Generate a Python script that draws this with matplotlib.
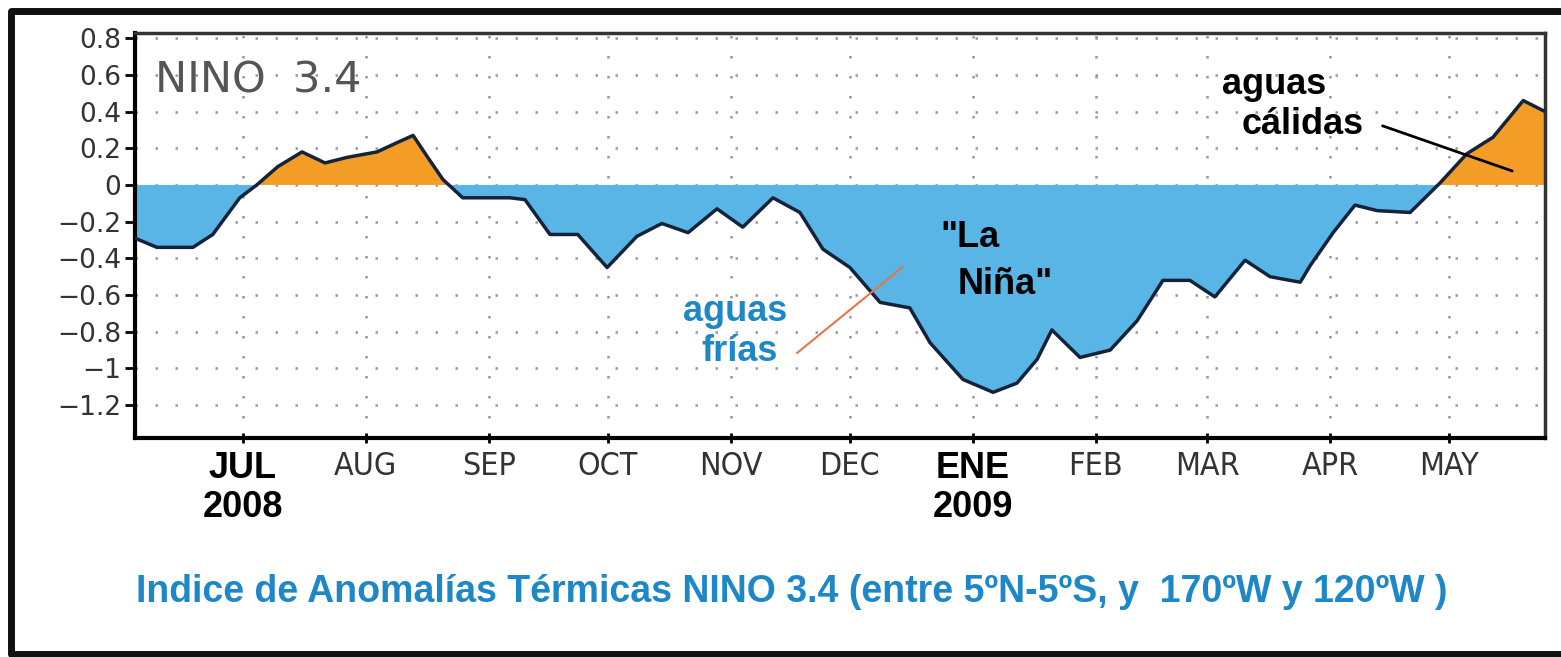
import numpy as np
import pandas as pd
import matplotlib
matplotlib.use('Agg')
import matplotlib.pyplot as plt
from matplotlib.lines import Line2D

# Indice NINO 3.4 (dias desde 2008-07-01, anomalia en C)
inicio = pd.Timestamp('2008-07-01')
dias = [-27.2, -21.7, -12.6, -7.6, -0.8, 3.5, 8.8, 14.9, 20.7, 26.2, 33.8, 38.8,
        42.9, 46.6, 50.4, 55.4, 67.3, 71.1, 77.4, 84.4, 91.8, 99.3, 105.6, 112.2,
        119.5, 126.0, 133.6, 140.4, 146.2, 153.0, 160.6, 168.1, 173.2, 181.5,
        189.1, 195.1, 200.2, 203.9, 211.0, 218.6, 225.4, 231.9, 238.7, 245.0,
        252.6, 258.9, 266.5, 269.0, 274.8, 280.3, 285.9, 294.2, 301.7, 308.5,
        315.1, 322.7, 328.2]
anomalia = [-0.29, -0.34, -0.34, -0.27, -0.07, 0.00, 0.10, 0.18, 0.12, 0.15, 0.18, 0.23,
            0.27, 0.15, 0.03, -0.07, -0.07, -0.08, -0.27, -0.27, -0.45, -0.28, -0.21, -0.26,
            -0.13, -0.23, -0.07, -0.15, -0.35, -0.45, -0.64, -0.67, -0.86, -1.06,
            -1.13, -1.08, -0.95, -0.79, -0.94, -0.90, -0.74, -0.52, -0.52, -0.61,
            -0.41, -0.50, -0.53, -0.44, -0.26, -0.11, -0.14, -0.15, 0.01, 0.17,
            0.26, 0.46, 0.40]

meses = pd.date_range('2008-07-01', '2009-05-01', freq='MS')
etiquetas_meses = ['JUL\n2008', 'AUG', 'SEP', 'OCT', 'NOV', 'DEC',
                   'ENE\n2009', 'FEB', 'MAR', 'APR', 'MAY']
yticks = [0.8, 0.6, 0.4, 0.2, 0, -0.2, -0.4, -0.6, -0.8, -1, -1.2]
ytick_labels = ['0.8', '0.6', '0.4', '0.2', '0', '\u22120.2', '\u22120.4', '\u22120.6',
                '\u22120.8', '\u22121', '\u22121.2']

fechas = inicio + pd.to_timedelta(dias, unit='D')
x = matplotlib.dates.date2num(fechas)
y = np.array(anomalia)

azul = '#58B5E6'
naranja = '#F39C26'
azul_texto = '#1E87C7'

W, H = 1561, 657
fig = plt.figure(figsize=(W / 100, H / 100), dpi=100)
ax = fig.add_axes([135 / W, 1 - 438 / H, 1410 / W, 405 / H])

ax.fill_between(x, y, 0, where=y <= 0, interpolate=True, color=azul, lw=0, zorder=2)
ax.fill_between(x, y, 0, where=y >= 0, interpolate=True, color=naranja, lw=0, zorder=2)
ax.plot(x, y, color='#14233a', lw=2.5, zorder=3)

ax.set_xlim(matplotlib.dates.date2num(inicio + pd.Timedelta(days=-27.2)),
            matplotlib.dates.date2num(inicio + pd.Timedelta(days=328.2)))
ax.set_ylim(-1.379, 0.828)

ax.set_xticks(matplotlib.dates.date2num(meses))
ax.set_xticklabels(etiquetas_meses)
ax.set_yticks(yticks)
ax.set_yticklabels(ytick_labels)

ax.grid(True, color='#999999', lw=1.8, linestyle=(0, (1, 7)), zorder=1)
ax.set_axisbelow(True)

for lab in ax.get_xticklabels():
    if '\n' in lab.get_text():
        lab.set_fontfamily('Liberation Sans')
        lab.set_fontweight('bold')
        lab.set_fontsize(26)
        lab.set_color('black')
        lab.set_linespacing(1.15)
    else:
        lab.set_fontfamily('DejaVu Sans')
        lab.set_fontstretch('condensed')
        lab.set_fontsize(23)
        lab.set_color('#333333')
for lab in ax.get_yticklabels():
    lab.set_fontsize(19)
    lab.set_color('#333333')

ax.tick_params(axis='y', length=7, width=2, pad=3, direction='out')
ax.tick_params(axis='x', length=7, width=2, pad=6, direction='inout')

for s in ['left', 'bottom']:
    ax.spines[s].set_linewidth(3)
    ax.spines[s].set_color('black')
for s in ['top', 'right']:
    ax.spines[s].set_linewidth(2.5)
    ax.spines[s].set_color('#333333')

ax.text(0.014, 0.935, 'NINO  3.4', transform=ax.transAxes, fontsize=31,
        color='#555555', va='top', ha='left', zorder=4)

def d(n):
    return matplotlib.dates.date2num(inicio + pd.Timedelta(days=n))

kw = dict(fontfamily='Liberation Sans', fontweight='bold', fontsize=26,
          ha='center', va='center', zorder=5)
ax.text(d(259.9), 0.545, 'aguas', color='black', **kw)
ax.text(d(267.0), 0.327, 'cálidas', color='black', **kw)
ax.annotate('', xy=(d(320.6), 0.071), xytext=(d(286.6), 0.327),
            arrowprops=dict(arrowstyle='-', color='black', lw=2), zorder=5)

ax.text(d(183.3), -0.289, '"La', color='black', **kw)
ax.text(d(192.1), -0.545, 'Niña"', color='black', **kw)

ax.text(d(124.0), -0.692, 'aguas', color=azul_texto, **kw)
ax.text(d(125.3), -0.910, 'frías', color=azul_texto, **kw)
ax.annotate('', xy=(d(166.9), -0.436), xytext=(d(139.1), -0.926),
            arrowprops=dict(arrowstyle='-', color='#E07848', lw=1.5), zorder=5)

fig.text(792 / W, 1 - 592 / H,
         'Indice de Anomalías Térmicas NINO 3.4 (entre 5ºN-5ºS, y  170ºW y 120ºW )',
         fontfamily='Liberation Sans', fontweight='bold', fontsize=27,
         color=azul_texto, ha='center', va='center')

# marco exterior (sin lado derecho, cortado en la imagen)
fig.add_artist(Line2D([1, 11 / W, 11 / W, 1], [1 - 11 / H, 1 - 11 / H, 1 - 654 / H, 1 - 654 / H],
                      transform=fig.transFigure, color='#111111', lw=5))

fig.savefig('out.png', dpi=100, facecolor='white')
